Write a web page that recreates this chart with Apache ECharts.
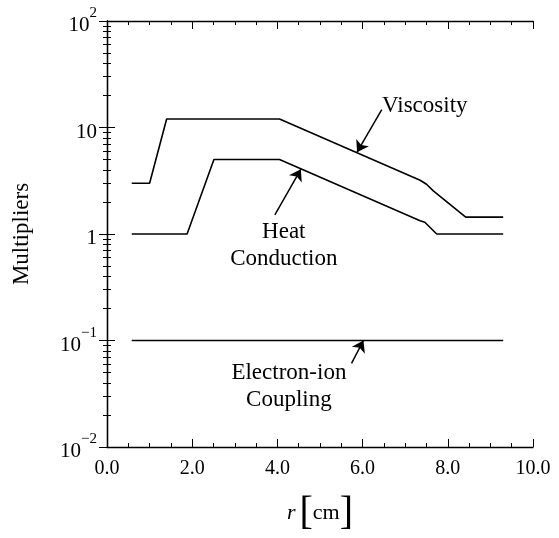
<!DOCTYPE html>
<html>
<head>
<meta charset="utf-8">
<script src="https://cdn.jsdelivr.net/npm/echarts@6/dist/echarts.min.js"></script>
<style>
  html, body { margin: 0; padding: 0; background: #ffffff; }
  #chart { width: 559px; height: 538px; }
</style>
</head>
<body>
<div id="chart"></div>
<script>
// Transport-coefficient multipliers versus radius r [cm]
const viscosityR = [0.58, 1.0, 1.4, 4.05, 7.35, 7.5, 7.66, 8.42, 9.3];
const viscosityM = [3, 3, 12, 12, 3.2, 2.93, 2.54, 1.44, 1.44];

const heatR = [0.58, 1.88, 2.51, 4.05, 7.35, 7.46, 7.74, 9.3];
const heatM = [1, 1, 5, 5, 1.33, 1.29, 1.0, 1.0];

const couplingR = [0.58, 9.3];
const couplingM = [0.1, 0.1];

// Axis ranges and tick labels
const xRange = [0, 10];
const xStep = 2;
const yRange = [0.01, 100];
const yTickText = { '2': ['10', '2'], '1': ['10', ''], '0': ['1', ''], '-1': ['10', '\u22121'], '-2': ['10', '\u22122'] };

// Curve names and their callout texts: [label lines, text anchor (r, M), arrow tail (r, M), arrow head (r, M)]
const callouts = [
  { lines: ['Viscosity'], text: [7.46, 16.1], tail: [6.45, 14.7], head: [5.87, 5.87] },
  { lines: ['Heat', 'Conduction'], text: [4.15, 0.78], tail: [3.94, 1.51], head: [4.55, 4.05] },
  { lines: ['Electron-ion', 'Coupling'], text: [4.27, 0.037], tail: [5.74, 0.061], head: [6.02, 0.1] }
];

const SERIF = '"Liberation Serif", "DejaVu Serif", serif';
const pairs = (xs, ys) => xs.map((x, i) => [x, ys[i]]);

const chart = echarts.init(document.getElementById('chart'), null, { renderer: 'canvas' });

const axisLine = { show: true, lineStyle: { color: '#000', width: 1.3 } };

function yLabel(v) {
  const e = String(Math.round(Math.log10(v)));
  const t = yTickText[e];
  if (!t) return '';
  return t[1] ? '{b|' + t[0] + '}{s|' + t[1] + '}' : '{b|' + t[0] + '}';
}

const lineSeries = (name, xs, ys) => ({
  name: name,
  type: 'line',
  xAxisIndex: 0,
  yAxisIndex: 0,
  data: pairs(xs, ys),
  symbol: 'none',
  lineStyle: { color: '#000', width: 1.6 },
  animation: false
});

const option = {
  animation: false,
  backgroundColor: '#fff',
  grid: { left: 107, right: 26, top: 21, bottom: 89, containLabel: false },
  xAxis: [
    {
      type: 'value', position: 'bottom', min: xRange[0], max: xRange[1], interval: xStep,
      axisLine: axisLine,
      axisTick: { show: true, inside: true, length: 8, lineStyle: { color: '#000', width: 1 } },
      minorTick: { show: true, splitNumber: 4, length: 4, lineStyle: { color: '#000', width: 1 } },
      splitLine: { show: false },
      axisLabel: {
        margin: 12, color: '#000', fontFamily: SERIF, fontSize: 20,
        formatter: v => v.toFixed(1)
      },
      name: '{i|r}{k|[}{n|cm}{k|]}',
      nameLocation: 'middle',
      nameGap: 46,
      nameTextStyle: {
        rich: {
          i: { fontFamily: SERIF, fontStyle: 'italic', fontSize: 22, color: '#000', padding: [0, 4, 0, 0] },
          k: { fontFamily: SERIF, fontSize: 40, fontWeight: 'lighter', color: '#000' },
          n: { fontFamily: SERIF, fontSize: 22, color: '#000' }
        }
      }
    },
    {
      type: 'value', position: 'top', min: xRange[0], max: xRange[1], interval: xStep,
      axisLine: axisLine,
      axisTick: { show: true, inside: true, length: 8, lineStyle: { color: '#000', width: 1 } },
      minorTick: { show: true, splitNumber: 4, length: 4, lineStyle: { color: '#000', width: 1 } },
      splitLine: { show: false },
      axisLabel: { show: false }
    }
  ],
  yAxis: [
    {
      type: 'log', logBase: 10, position: 'left', min: yRange[0], max: yRange[1],
      axisLine: axisLine,
      axisTick: { show: true, inside: true, length: 8, lineStyle: { color: '#000', width: 1 } },
      minorTick: { show: true, splitNumber: 9, length: 4, lineStyle: { color: '#000', width: 1 } },
      splitLine: { show: false },
      axisLabel: {
        margin: 10, color: '#000',
        formatter: yLabel,
        rich: {
          b: { fontFamily: SERIF, fontSize: 21, color: '#000', lineHeight: 30, verticalAlign: 'bottom' },
          s: { fontFamily: SERIF, fontSize: 15, color: '#000', lineHeight: 15, verticalAlign: 'top' }
        }
      },
      name: 'Multipliers',
      nameLocation: 'middle',
      nameGap: 74,
      nameTextStyle: { fontFamily: SERIF, fontSize: 23, color: '#000' }
    },
    {
      type: 'log', logBase: 10, position: 'right', min: yRange[0], max: yRange[1],
      axisLine: axisLine,
      axisTick: { show: true, inside: true, length: 8, lineStyle: { color: '#000', width: 1 } },
      minorTick: { show: true, splitNumber: 9, length: 4, lineStyle: { color: '#000', width: 1 } },
      splitLine: { show: false },
      axisLabel: { show: false }
    }
  ],
  series: [
    lineSeries('Viscosity', viscosityR, viscosityM),
    lineSeries('Heat Conduction', heatR, heatM),
    lineSeries('Electron-ion Coupling', couplingR, couplingM),
    {
      name: 'callout arrows',
      type: 'lines',
      coordinateSystem: 'cartesian2d',
      xAxisIndex: 0,
      yAxisIndex: 0,
      data: callouts.map(c => ({ coords: [c.tail, c.head] })),
      symbol: ['none', 'arrow'],
      symbolSize: [0, 11],
      lineStyle: { color: '#000', width: 1.5, opacity: 1 },
      animation: false,
      silent: true
    }
  ]
};

chart.setOption(option);

// Callout texts, anchored in data space
const texts = callouts.map(c => {
  const p = chart.convertToPixel({ xAxisIndex: 0, yAxisIndex: 0 }, c.text);
  return {
    type: 'text',
    x: p[0],
    y: p[1],
    style: {
      text: c.lines.join('\n'),
      fontFamily: SERIF,
      fontSize: 23,
      lineHeight: 27,
      fill: '#000',
      align: 'center',
      verticalAlign: 'middle'
    },
    silent: true
  };
});
chart.setOption({ graphic: { elements: texts } });
</script>
</body>
</html>
